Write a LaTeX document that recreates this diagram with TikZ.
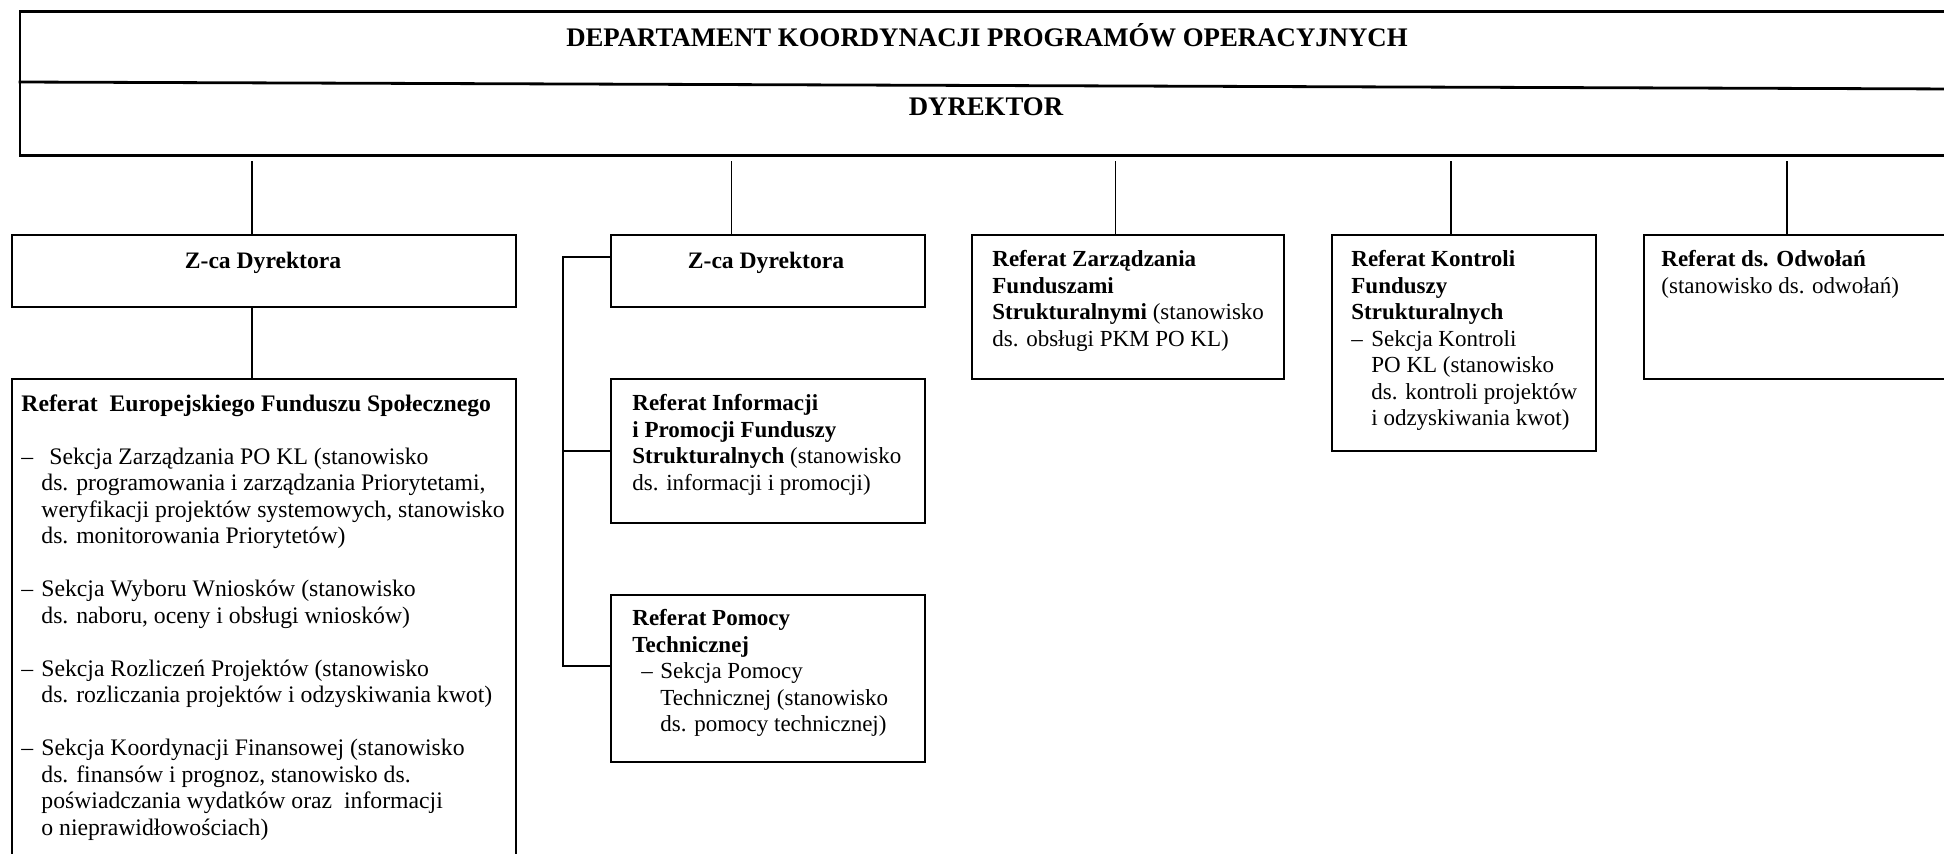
\documentclass[tikz,border=0pt]{standalone}
\usepackage{fontspec}
\setmainfont{Liberation Serif}
\begin{document}
\begin{tikzpicture}[x=0.5pt,y=-0.5pt,
  box/.style={draw, line width=1pt, inner sep=0pt, anchor=north west},
  topbox/.style={draw, line width=1.4pt, inner sep=0pt, anchor=north west},
  conn/.style={line width=0.8pt},
  txt/.style={inner sep=0pt, anchor=north west, align=left, font=\fontsize{11.5}{13.25}\selectfont},
  bigtxt/.style={txt, font=\fontsize{11.85}{13.25}\selectfont},
  head/.style={inner sep=0pt, font=\fontsize{13.4}{15}\selectfont\bfseries},
  zca/.style={inner sep=0pt, font=\fontsize{11.8}{13}\selectfont\bfseries}]
\useasboundingbox (0,0) rectangle (1944,853);
% boxes
\node[topbox, minimum width=970.7pt, minimum height=72pt] (top) at (18.6,10) {};
\node[box, minimum width=252pt, minimum height=36pt] (b1) at (11,234) {};
\node[box, minimum width=156.75pt, minimum height=36pt] (b2) at (610,234) {};
\node[box, minimum width=156pt, minimum height=72pt] (b3) at (971,234) {};
\node[box, minimum width=132pt, minimum height=108pt] (b4) at (1331,234) {};
\node[box, minimum width=158.5pt, minimum height=72pt] (b5) at (1643,234) {};
\node[box, minimum width=252pt, minimum height=251pt] (b6) at (11,378) {};
\node[box, minimum width=156.75pt, minimum height=72pt] (b7) at (610,378) {};
\node[box, minimum width=156.75pt, minimum height=83.5pt] (b8) at (610,594) {};
% top box divider
\draw[line width=1.4pt] (top.north west |- 0,82) -- (1960,89);
% headings
\node[head] (title) at (987,35) {DEPARTAMENT KOORDYNACJI PROGRAMÓW OPERACYJNYCH};
\node[head] (dyr) at (986,107) {DYREKTOR};
% texts
\node[zca] (z1) at (263,263) {Z-ca Dyrektora};
\node[zca] (z2) at (766,263) {Z-ca Dyrektora};
\node[txt] (t3) at (992,250) {\textbf{Referat Zarządzania}\\ \textbf{Funduszami}\\ \textbf{Strukturalnymi} (stanowisko\\ ds. obsługi PKM PO KL)};
\node[txt] (t4) at (1351,250) {\textbf{Referat Kontroli}\\ \textbf{Funduszy}\\ \textbf{Strukturalnych}\\ \makebox[10pt][l]{–}Sekcja Kontroli\\ \hspace*{10pt}PO KL (stanowisko\\ \hspace*{10pt}ds. kontroli projektów\\ \hspace*{10pt}i odzyskiwania kwot)};
\node[txt] (t5) at (1661,250) {\textbf{Referat ds. Odwołań}\\ (stanowisko ds. odwołań)};
\node[bigtxt] (t6) at (21,394) {\textbf{Referat\ \ Europejskiego Funduszu Społecznego}\\[13.25pt]
\makebox[14pt][l]{–}Sekcja Zarządzania PO KL (stanowisko\\
\hspace*{10pt}ds. programowania i zarządzania Priorytetami,\\
\hspace*{10pt}weryfikacji projektów systemowych, stanowisko\\
\hspace*{10pt}ds. monitorowania Priorytetów)\\[13.25pt]
\makebox[10pt][l]{–}Sekcja Wyboru Wniosków (stanowisko\\
\hspace*{10pt}ds. naboru, oceny i obsługi wniosków)\\[13.25pt]
\makebox[10pt][l]{–}Sekcja Rozliczeń Projektów (stanowisko\\
\hspace*{10pt}ds. rozliczania projektów i odzyskiwania kwot)\\[13.25pt]
\makebox[10pt][l]{–}Sekcja Koordynacji Finansowej (stanowisko\\
\hspace*{10pt}ds. finansów i prognoz, stanowisko ds.\\
\hspace*{10pt}poświadczania wydatków oraz\ \ informacji\\
\hspace*{10pt}o nieprawidłowościach)};
\node[txt] (t7) at (632,394) {\textbf{Referat Informacji}\\ \textbf{i Promocji Funduszy}\\ \textbf{Strukturalnych} (stanowisko\\ ds. informacji i promocji)};
\node[txt] (t8) at (632,609) {\textbf{Referat Pomocy}\\ \textbf{Technicznej}\\ \hspace*{4.5pt}\makebox[9.5pt][l]{–}Sekcja Pomocy\\ \hspace*{14pt}Technicznej (stanowisko\\ \hspace*{14pt}ds. pomocy technicznej)};
% connectors
\coordinate (s1) at (251.7,161);
\coordinate (s2) at (731.5,161);
\coordinate (s3) at (1115.5,161);
\coordinate (s4) at (1451,161);
\coordinate (s5) at (1787,161);
\draw[conn] (s1) -- (s1 |- b1.north);
\draw[conn] (s2) -- (s2 |- b2.north);
\draw[conn] (s3) -- (s3 |- b3.north);
\draw[conn] (s4) -- (s4 |- b4.north);
\draw[conn] (s5) -- (s5 |- b5.north);
\draw[conn] (b1.south -| s1) -- (b6.north -| s1);
\coordinate (kt) at (563,257);
\coordinate (kb) at (563,666);
\draw[conn] (kt -| b2.west) -- (kt) -- (kb) -- (kb -| b8.west);
\draw[conn] (b7.west -| kt) -- (b7.west);
\end{tikzpicture}
\end{document}
